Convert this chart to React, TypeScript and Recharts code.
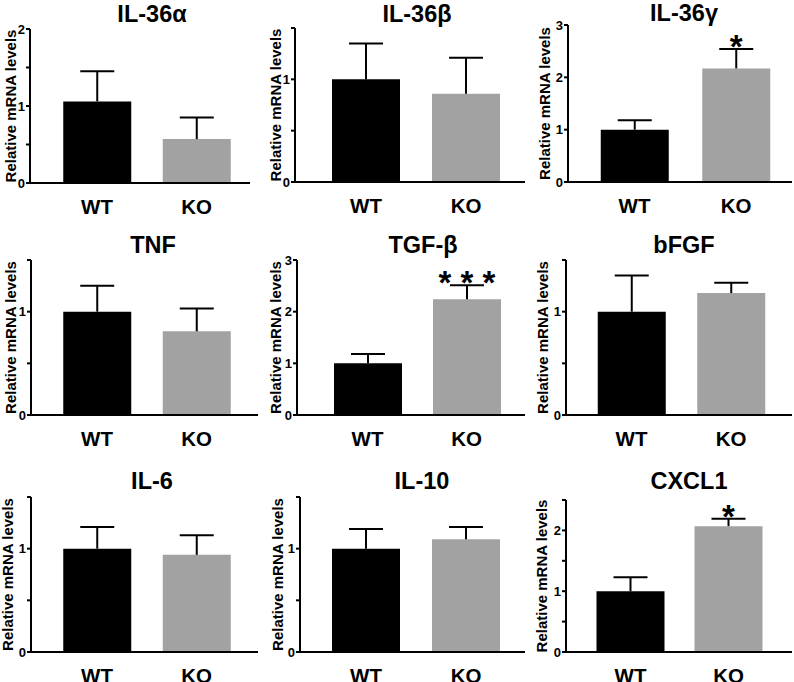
import React from 'react';
import { BarChart, Bar, XAxis, YAxis, Cell } from 'recharts';

const FONT = '"Liberation Sans", Arial, Helvetica, sans-serif';

// ---- data ----
const categories = ['WT', 'KO'];
const genes = ['IL-36α', 'IL-36β', 'IL-36γ', 'TNF', 'TGF-β', 'bFGF', 'IL-6', 'IL-10', 'CXCL1'];
const wtMean = [1.06, 1.0, 1.0, 1.0, 1.0, 1.0, 1.0, 1.0, 1.0];
const wtSem = [0.39, 0.35, 0.18, 0.25, 0.18, 0.35, 0.21, 0.19, 0.23];
const koMean = [0.57, 0.86, 2.17, 0.81, 2.24, 1.18, 0.94, 1.09, 2.07];
const koSem = [0.28, 0.35, 0.37, 0.22, 0.27, 0.1, 0.19, 0.12, 0.12];
const significance = ['', '', '*', '', '***', '', '', '', '*'];
const yMaxima = [2, 1.5, 3, 1.5, 3, 1.5, 1.5, 1.5, 2.5];
const yTicks = [
  [0, 0.5, 1, 1.5, 2],
  [0, 0.5, 1, 1.5],
  [0, 1, 2, 3],
  [0, 0.5, 1, 1.5],
  [0, 1, 2, 3],
  [0, 0.5, 1, 1.5],
  [0, 0.5, 1, 1.5],
  [0, 0.5, 1, 1.5],
  [0, 0.5, 1, 1.5, 2, 2.5],
];
const yLabel = 'Relative mRNA levels';

// ---- layout (pixel positions of each panel) ----
const layout = [
  { labelX: 10, axisX: 30, axisEnd: 250, yTop: 29, y0: 183, wtC: 97, koC: 196.5, titleX: 152, titleBase: 23 },
  { labelX: 275, axisX: 295, axisEnd: 525, yTop: 28, y0: 182, wtC: 366, koC: 466, titleX: 417, titleBase: 23 },
  { labelX: 544, axisX: 568, axisEnd: 792, yTop: 25, y0: 182, wtC: 634.5, koC: 736, titleX: 684, titleBase: 22 },
  { labelX: 10, axisX: 31, axisEnd: 258, yTop: 260, y0: 415, wtC: 97, koC: 196.5, titleX: 153, titleBase: 254 },
  { labelX: 275, axisX: 297, axisEnd: 525, yTop: 260, y0: 415, wtC: 367.5, koC: 466.5, titleX: 423, titleBase: 254 },
  { labelX: 542, axisX: 566, axisEnd: 792, yTop: 260, y0: 415, wtC: 631.5, koC: 731, titleX: 684, titleBase: 254 },
  { labelX: 7, axisX: 31, axisEnd: 258, yTop: 497, y0: 652, wtC: 97, koC: 196.5, titleX: 152, titleBase: 490 },
  { labelX: 277, axisX: 300, axisEnd: 525, yTop: 497, y0: 652, wtC: 366, koC: 466, titleX: 422, titleBase: 490 },
  { labelX: 541, axisX: 566, axisEnd: 792, yTop: 500, y0: 652, wtC: 630.5, koC: 728.5, titleX: 689, titleBase: 490 },
];

const barColors = ['#000000', '#a2a2a2'];
const BAR_W = 68;
const CAP_W = 34;
const TITLE_FS = 23.5;

const ErrShape = (props: any) => {
  const { x, y, width, height, payload } = props;
  const cx = x + width / 2;
  const sig: string = payload && payload.sig ? payload.sig : '';
  return (
    <g>
      <line x1={cx} x2={cx} y1={y + height} y2={y} stroke="#000" strokeWidth={2} />
      <line x1={cx - CAP_W / 2} x2={cx + CAP_W / 2} y1={y} y2={y} stroke="#000" strokeWidth={2} />
      {sig ? (
        <text
          x={cx}
          y={y + 9}
          textAnchor="middle"
          fontSize={33}
          fontWeight="bold"
          fontFamily={FONT}
          fill="#000"
        >
          {sig.split('').join(' ')}
        </text>
      ) : null}
    </g>
  );
};

const YLabel = (props: any) => {
  const vb = props.viewBox || { x: 0, y: 0, width: 0, height: 0 };
  const cx = vb.x + 10;
  const cy = vb.y + vb.height / 2;
  return (
    <text
      x={cx}
      y={cy}
      transform={`rotate(-90 ${cx} ${cy})`}
      textAnchor="middle"
      dominantBaseline="central"
      fontSize={15}
      fontWeight="bold"
      fontFamily={FONT}
      fill="#000"
    >
      {yLabel}
    </text>
  );
};

const Panel = ({ i }: { i: number }) => {
  const L = layout[i];
  const data = categories.map((c, k) => ({
    name: c,
    mean: k === 0 ? wtMean[i] : koMean[i],
    err: k === 0 ? wtSem[i] : koSem[i],
    sig: k === 0 ? '' : significance[i],
  }));
  const chartLeft = L.labelX - 10;
  const topMargin = 16;
  const chartTop = L.yTop - topMargin;
  const xAxisH = 40;
  const width = L.axisEnd - chartLeft + 1;
  const height = L.y0 - chartTop + xAxisH;
  const pitch = L.koC - L.wtC;
  const padLeft = L.wtC - pitch / 2 - L.axisX;
  const padRight = L.axisEnd - (L.koC + pitch / 2);
  return (
    <>
      <div
        style={{
          position: 'absolute',
          left: L.titleX,
          top: L.titleBase - 0.8465 * TITLE_FS,
          transform: 'translateX(-50%)',
          fontFamily: FONT,
          fontWeight: 'bold',
          fontSize: TITLE_FS,
          lineHeight: `${TITLE_FS}px`,
          whiteSpace: 'nowrap',
          color: '#000',
        }}
      >
        {genes[i]}
      </div>
      <div style={{ position: 'absolute', left: chartLeft, top: chartTop }}>
        <BarChart
          width={width}
          height={height}
          data={data}
          margin={{ top: topMargin, right: 1, bottom: 0, left: 0 }}
        >
          <XAxis
            dataKey="name"
            padding={{ left: padLeft, right: padRight }}
            height={xAxisH}
            tickLine={false}
            tickSize={6}
            tickMargin={10}
            axisLine={{ stroke: '#000', strokeWidth: 2 }}
            tick={{ fill: '#000', fontSize: 20.5, fontWeight: 'bold', fontFamily: FONT }}
            interval={0}
          />
          <YAxis
            width={L.axisX - chartLeft}
            domain={[0, yMaxima[i]]}
            ticks={yTicks[i]}
            interval={0}
            tickFormatter={(v: number) => (Number.isInteger(v) ? String(v) : '')}
            tickSize={4}
            tickMargin={1}
            axisLine={{ stroke: '#000', strokeWidth: 2 }}
            tickLine={{ stroke: '#000', strokeWidth: 2 }}
            tick={{ fill: '#000', fontSize: 13, fontWeight: 'bold', fontFamily: FONT }}
            label={<YLabel />}
          />
          <Bar dataKey="mean" stackId="s" barSize={BAR_W} isAnimationActive={false}>
            {data.map((d, k) => (
              <Cell key={d.name} fill={barColors[k]} />
            ))}
          </Bar>
          <Bar dataKey="err" stackId="s" barSize={BAR_W} isAnimationActive={false} shape={ErrShape} />
        </BarChart>
      </div>
    </>
  );
}

export default function App() {
  return (
    <div
      style={{
        position: 'absolute',
        left: 0,
        top: 0,
        width: 794,
        height: 682,
        overflow: 'hidden',
        background: '#fff',
      }}
    >
      {genes.map((g, i) => (
        <Panel key={g} i={i} />
      ))}
    </div>
  );
}
